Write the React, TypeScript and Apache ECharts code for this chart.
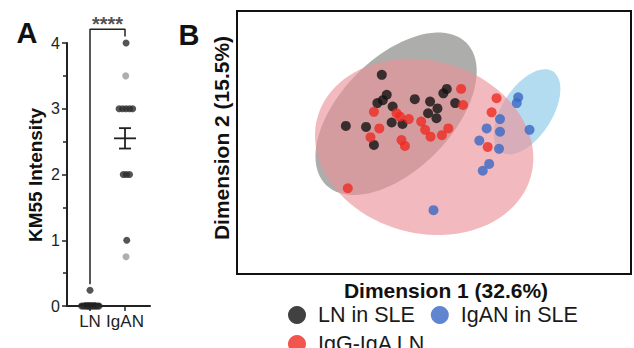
import React, { useEffect, useRef } from "react";
import * as echarts from "echarts";

const FONT = "'Liberation Sans', Arial, Helvetica, sans-serif";

// ---------- Panel A data ----------
const groupLabels = ["LN", "IgAN"];
const lnValues = [0.24, 0, 0, 0, 0, 0, 0, 0, 0, 0, 0, 0, 0, 0, 0];
const lnJitter = [0, -0.24, -0.19, -0.14, -0.1, -0.06, -0.02, 0.02, 0.06, 0.1, 0.14, 0.18, 0.22, 0.26, -0.04];
const igValues = [4, 3.5, 3, 3, 3, 3, 3, 2, 2, 2, 1, 0.75];
const igJitter = [0.03, 0.02, -0.17, -0.07, 0.03, 0.13, 0.22, -0.05, 0.04, 0.13, 0.05, 0.03];
const igFaint = [false, true, false, false, false, false, false, false, false, false, false, true];
const groupMeans = [0.02, 2.55];
const groupSems = [0.02, 0.155];
const sigBracketX = [0, 0, 1, 1];
const sigBracketY = [0.33, 4.21, 4.21, 4.1];
const sigText = "****";

// ---------- Panel B data ----------
const lnSleX = [-1.06, -0.96, -1.04, -1.15, -0.84, -0.39, -0.08, 0.07, -0.12, 0.05, 0.19, 0.26, 0.43, -1.79, -1.38, -0.86, -0.64, -1.22];
const lnSleY = [1.09, 0.68, 0.57, 0.51, 0.44, 0.59, 0.54, 0.4, 0.3, 0.2, 0.71, 0.8, 0.51, 0.04, 0.02, 0.11, 0.08, -0.35];
const igaSleX = [1.71, 1.68, 1.34, 1.07, 1.34, 1.94, 0.92, 1.32, 1.12, 0.99, -0.01];
const igaSleY = [0.63, 0.51, 0.18, -0.01, -0.08, -0.04, -0.26, -0.43, -0.74, -0.88, -1.69];
const iggIgaX = [0.55, 0.59, -1.22, -0.76, -0.69, -0.51, -0.26, -0.18, -0.07, 0.16, 0.29, -1.11, -1.29, -0.66, -0.59, 1.27, 1.17, 1.09, -1.75];
const iggIgaY = [0.8, 0.47, 0.33, 0.3, 0.23, 0.18, 0.13, -0.04, -0.18, -0.15, -0.01, -0.01, -0.19, -0.25, -0.37, 0.61, 0.32, -0.39, -1.24];

// confidence ellipses: LN in SLE, IgAN in SLE, IgG-IgA LN
const ellipseCx = [-0.77, 1.89, -0.2];
const ellipseCy = [0.29, 0.33, -0.39];
const ellipseA = [2.04, 0.98, 2.25];
const ellipseB = [1.14, 0.51, 1.77];
const ellipseAngle = [46, 58, -16];

const seriesNames = ["LN in SLE", "IgAN in SLE", "IgG-IgA LN"];
const pointColors = ["#111111", "#3a68c4", "#ee2a22"];
const ellipseFills = ["#adadab", "#b4dcf0", "rgba(235,145,152,0.63)"];

export default function App() {
  const ref = useRef<HTMLDivElement>(null);
  useEffect(() => {
    if (!ref.current) return;
    const chart = echarts.init(ref.current, undefined, { renderer: "svg" });
    const axisColor = "#222";

    const option: any = {
      animation: false,
      backgroundColor: "#ffffff",
      textStyle: { fontFamily: FONT },
      grid: [
        { left: 67, top: 43, width: 83, height: 263, show: false },
        {
          left: 237,
          top: 11,
          width: 394,
          height: 263,
          show: true,
          borderColor: "#111",
          borderWidth: 2,
          backgroundColor: "transparent",
        },
      ],
      xAxis: [
        {
          gridIndex: 0,
          type: "value",
          min: -0.657,
          max: 1.714,
          axisLine: { show: true, onZero: false, lineStyle: { color: axisColor, width: 2 } },
          axisTick: { show: true, customValues: [0, 1], length: 5, lineStyle: { color: axisColor, width: 1.5 } },
          axisLabel: {
            customValues: [0, 1],
            formatter: (v: number) => groupLabels[Math.round(v)] ?? "",
            fontSize: 17,
            color: "#222",
            margin: 7,
            fontFamily: FONT,
          },
          splitLine: { show: false },
        },
        { gridIndex: 1, type: "value", min: -4, max: 4, show: false },
      ],
      yAxis: [
        {
          gridIndex: 0,
          type: "value",
          min: 0,
          max: 4,
          interval: 1,
          axisLine: { show: true, onZero: false, lineStyle: { color: axisColor, width: 2 } },
          axisTick: { show: true, length: 5, lineStyle: { color: axisColor, width: 1.5 } },
          minorTick: { show: true, splitNumber: 2, length: 4, lineStyle: { color: axisColor, width: 1.5 } },
          axisLabel: { fontSize: 16, color: "#222", margin: 7, fontFamily: FONT },
          splitLine: { show: false },
        },
        { gridIndex: 1, type: "value", min: -3, max: 2.4, show: false },
      ],
      legend: [
        {
          data: [seriesNames[0], seriesNames[1]],
          left: 283,
          top: 299,
          orient: "horizontal",
          icon: "circle",
          itemWidth: 18,
          itemHeight: 18,
          itemGap: 16,
          textStyle: { fontSize: 21.5, color: "#1a1a1a", fontFamily: FONT, padding: [0, 0, 0, 7] },
        },
        {
          data: [seriesNames[2]],
          left: 283,
          top: 328,
          icon: "circle",
          itemWidth: 18,
          itemHeight: 18,
          textStyle: { fontSize: 21.5, color: "#1a1a1a", fontFamily: FONT, padding: [0, 0, 0, 7] },
        },
      ],
      graphic: [
        { type: "text", x: 27, y: 33, style: { text: "A", fontSize: 29, fontWeight: "bold", fontFamily: FONT, fill: "#111", align: "center", verticalAlign: "middle" } },
        { type: "text", x: 189, y: 35, style: { text: "B", fontSize: 29, fontWeight: "bold", fontFamily: FONT, fill: "#111", align: "center", verticalAlign: "middle" } },
        { type: "text", x: 35, y: 175, rotation: Math.PI / 2, style: { text: "KM55 Intensity", fontSize: 19, fontWeight: "bold", fontFamily: FONT, fill: "#111", align: "center", verticalAlign: "middle" } },
        { type: "text", x: 221, y: 138, rotation: Math.PI / 2, style: { text: "Dimension 2 (15.5%)", fontSize: 21, fontWeight: "bold", fontFamily: FONT, fill: "#111", align: "center", verticalAlign: "middle" } },
        { type: "text", x: 446, y: 290, style: { text: "Dimension 1 (32.6%)", fontSize: 21, fontWeight: "bold", fontFamily: FONT, fill: "#111", align: "center", verticalAlign: "middle" } },
      ],
      series: [
        // ---- Panel A ----
        {
          type: "scatter",
          name: "LN-A",
          xAxisIndex: 0,
          yAxisIndex: 0,
          symbolSize: 7,
          itemStyle: { color: "#2b2b2b" },
          data: lnValues.map((v, i) => [lnJitter[i], v]),
          z: 3,
        },
        {
          type: "scatter",
          name: "IgAN-A",
          xAxisIndex: 0,
          yAxisIndex: 0,
          symbolSize: 7,
          itemStyle: { color: "#2b2b2b" },
          data: igValues.map((v, i) => ({
            value: [1 + igJitter[i], v],
            itemStyle: igFaint[i] ? { color: "#9a9a9a" } : undefined,
          })),
          z: 3,
        },
        {
          type: "custom",
          name: "meanSem",
          xAxisIndex: 0,
          yAxisIndex: 0,
          z: 4,
          data: groupMeans.map((m, i) => [i, m, groupSems[i]]),
          renderItem: (params: any, api: any) => {
            const x = api.value(0);
            const m = api.value(1);
            const s = api.value(2);
            const c = api.coord([x, m]);
            const t = api.coord([x, m + s]);
            const b = api.coord([x, m - s]);
            const st = { stroke: "#222", lineWidth: 1.8 };
            return {
              type: "group",
              children: [
                { type: "line", shape: { x1: c[0] - 11, y1: c[1], x2: c[0] + 11, y2: c[1] }, style: st },
                { type: "line", shape: { x1: t[0], y1: t[1], x2: b[0], y2: b[1] }, style: st },
                { type: "line", shape: { x1: t[0] - 6, y1: t[1], x2: t[0] + 6, y2: t[1] }, style: st },
                { type: "line", shape: { x1: b[0] - 6, y1: b[1], x2: b[0] + 6, y2: b[1] }, style: st },
              ],
            };
          },
        },
        {
          type: "line",
          name: "bracket",
          xAxisIndex: 0,
          yAxisIndex: 0,
          clip: false,
          symbol: "none",
          silent: true,
          lineStyle: { color: "#222", width: 1.5 },
          data: sigBracketX.map((x, i) => [x, sigBracketY[i]]),
          z: 2,
        },
        {
          type: "scatter",
          name: "sig",
          xAxisIndex: 0,
          yAxisIndex: 0,
          clip: false,
          symbolSize: 0,
          silent: true,
          data: [[(sigBracketX[1] + sigBracketX[2]) / 2, sigBracketY[1]]],
          label: {
            show: true,
            position: "top",
            distance: 0,
            offset: [0, 5],
            formatter: sigText,
            fontSize: 20,
            fontWeight: "bold",
            color: "#222",
            fontFamily: FONT,
          },
        },
        // ---- Panel B ----
        {
          type: "custom",
          name: "ellipses",
          xAxisIndex: 1,
          yAxisIndex: 1,
          z: 1,
          silent: true,
          data: ellipseCx.map((cx, i) => [cx, ellipseCy[i], ellipseA[i], ellipseB[i], ellipseAngle[i]]),
          renderItem: (params: any, api: any) => {
            const cx = api.value(0);
            const cy = api.value(1);
            const a = api.value(2);
            const b = api.value(3);
            const ang = (api.value(4) * Math.PI) / 180;
            const pts: number[][] = [];
            for (let k = 0; k < 96; k++) {
              const t = (k / 96) * Math.PI * 2;
              const dx = a * Math.cos(t);
              const dy = b * Math.sin(t);
              const x = cx + dx * Math.cos(ang) - dy * Math.sin(ang);
              const y = cy + dx * Math.sin(ang) + dy * Math.cos(ang);
              pts.push(api.coord([x, y]));
            }
            return { type: "polygon", shape: { points: pts }, style: { fill: ellipseFills[params.dataIndex], stroke: "none" } };
          },
        },
        {
          type: "scatter",
          name: seriesNames[0],
          xAxisIndex: 1,
          yAxisIndex: 1,
          symbolSize: 10,
          itemStyle: { color: pointColors[0] },
          data: lnSleX.map((x, i) => [x, lnSleY[i]]),
          z: 3,
        },
        {
          type: "scatter",
          name: seriesNames[1],
          xAxisIndex: 1,
          yAxisIndex: 1,
          symbolSize: 10,
          itemStyle: { color: pointColors[1] },
          data: igaSleX.map((x, i) => [x, igaSleY[i]]),
          z: 3,
        },
        {
          type: "scatter",
          name: seriesNames[2],
          xAxisIndex: 1,
          yAxisIndex: 1,
          symbolSize: 10,
          itemStyle: { color: pointColors[2] },
          data: iggIgaX.map((x, i) => [x, iggIgaY[i]]),
          z: 3,
        },
      ],
    };
    chart.setOption(option);
    return () => chart.dispose();
  }, []);
  return (
    <div
      ref={ref}
      style={{ position: "fixed", left: 0, top: 0, width: 634, height: 348, background: "#fff" }}
    />
  );
}
